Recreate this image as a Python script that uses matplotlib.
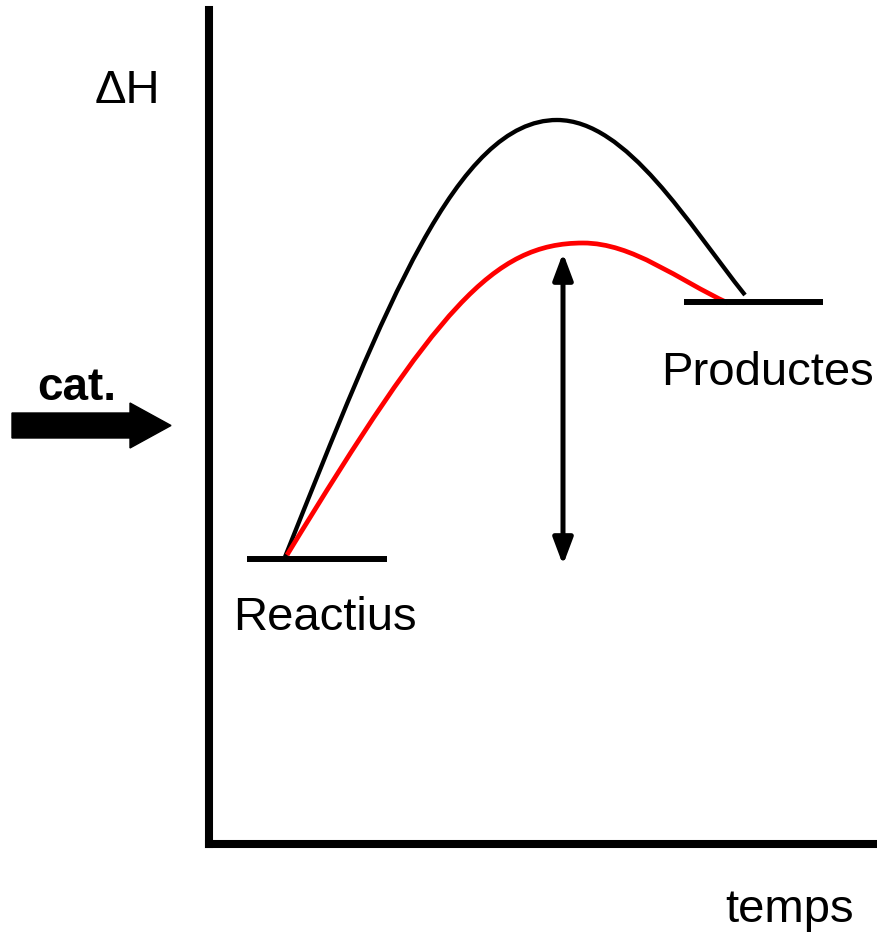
import matplotlib.pyplot as plt
from matplotlib.patches import FancyArrow, PathPatch
from matplotlib.path import Path

plt.rcParams['font.family'] = ['Liberation Sans', 'DejaVu Sans']

# diagram units: time and enthalpy measured from the axes corner
reactius_x = [38, 178]
reactius_h = 285
productes_x = [475, 614]
productes_h = 542

# uncatalysed path (black): start, handles, peak, handles, end (Bezier control points)
t_sense = [76, 176, 248, 348, 418, 480, 536]
h_sense = [287, 537, 724, 724, 724, 619, 549]

# catalysed path (red)
t_cat = [78, 228, 284, 374, 424, 469, 519]
h_cat = [289, 535, 601, 601, 601, 564, 541]

# energy gap arrow
gap_t = 354
gap_h = [279, 591]


def bezier_path(xs, ys):
    verts = list(zip(xs, ys))
    codes = [Path.MOVETO] + [Path.CURVE4] * (len(verts) - 1)
    return Path(verts, codes)


fig = plt.figure(figsize=(8.78, 9.35), dpi=100)
ax = fig.add_axes([209 / 878, 91 / 935, 669 / 878, 834 / 935])
ax.set_xlim(0, 669)
ax.set_ylim(0, 834)
ax.set_xticks([])
ax.set_yticks([])
for s in ['top', 'right']:
    ax.spines[s].set_visible(False)
for s in ['left', 'bottom']:
    ax.spines[s].set_linewidth(5.8)
    ax.spines[s].set_capstyle('projecting')

# levels
ax.plot(reactius_x, [reactius_h] * 2, color='black', lw=4.3, solid_capstyle='butt')
ax.plot(productes_x, [productes_h] * 2, color='black', lw=4.3, solid_capstyle='butt')

# reaction paths
ax.add_patch(PathPatch(bezier_path(t_sense, h_sense), facecolor='none',
                       edgecolor='black', lw=3.1, capstyle='butt'))
ax.add_patch(PathPatch(bezier_path(t_cat, h_cat), facecolor='none',
                       edgecolor='#ff0000', lw=3.4, capstyle='butt'))

# double arrow
ax.annotate('', xy=(gap_t, gap_h[1]), xytext=(gap_t, gap_h[0]),
            arrowprops=dict(arrowstyle='<|-|>,head_length=0.8,head_width=0.3',
                            mutation_scale=20, lw=3.6, color='black',
                            shrinkA=0, shrinkB=0))

# catalyst arrow
cat_arrow = FancyArrow(-197, 418.5, 159, 0, width=25, head_width=45,
                       head_length=41, length_includes_head=True,
                       color='black', clip_on=False)
ax.add_patch(cat_arrow)

ax.text(-114, 741, 'ΔH', fontsize=34, ha='left', va='baseline')
ax.text(-172, 444, 'cat.', fontsize=33, fontweight='bold', ha='left', va='baseline')
ax.text(452, 459, 'Productes', fontsize=34, ha='left', va='baseline', clip_on=False)
ax.text(24, 214, 'Reactius', fontsize=34, ha='left', va='baseline')
ax.text(516, -78, 'temps', fontsize=34, ha='left', va='baseline')

fig.savefig('out.png', dpi=100)
